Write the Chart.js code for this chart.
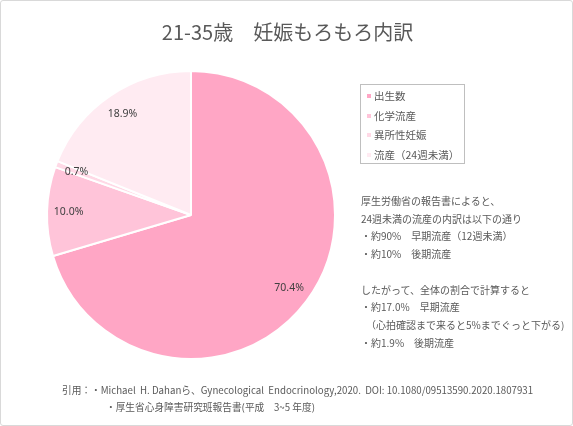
<!DOCTYPE html>
<html lang="ja">
<head>
<meta charset="utf-8">
<script src="https://cdn.jsdelivr.net/npm/chart.js@4"></script>
<style>
  body { margin: 0; background: #fff; }
  #wrap {
    position: relative; width: 571px; height: 424px;
    border: 1px solid #d9d9d9; border-radius: 3px; overflow: hidden;
    font-family: "Noto Sans CJK JP", "Noto Sans", sans-serif; color: #595959;
  }
  #chart { position: absolute; left: -1px; top: -1px; }
  #title {
    position: absolute; left: 0; width: 573px; top: 18px;
    text-align: center; font-size: 20px; line-height: 26px; color: #595959;
  }
  #legend {
    position: absolute; left: 359px; top: 83px; width: 105px; height: 80px;
    border: 1px solid #bfbfbf; font-size: 10.5px; line-height: 19.5px;
    padding-top: 1px; box-sizing: border-box;
  }
  #legend div { padding-left: 13px; position: relative; white-space: nowrap; }
  #legend span {
    position: absolute; left: 6px; top: 8px; width: 4px; height: 4px;
  }
  #note {
    position: absolute; left: 360px; top: 191px; font-size: 10px;
    line-height: 17.7px; white-space: pre; color: #595959;
  }
  #cite {
    position: absolute; left: 61px; top: 381px; font-size: 9.7px;
    line-height: 17px; white-space: pre; color: #595959;
  }
  #cite .second { padding-left: 44px; }
</style>
</head>
<body>
<div id="wrap">
  <canvas id="chart" width="573" height="426"></canvas>
  <div id="title">21-35歳　妊娠もろもろ内訳</div>
  <div id="legend"></div>
  <div id="note"></div>
  <div id="cite"></div>
</div>
<script>
// data
const categories = ["出生数", "化学流産", "異所性妊娠", "流産（24週未満）"];
const shares = [70.4, 10.0, 0.7, 18.9];

const sliceColors = ["#ffa6c5", "#ffc4d9", "#ffd9e6", "#ffebf2"];

const noteLines = [
    "厚生労働省の報告書によると、",
    "24週未満の流産の内訳は以下の通り",
    "・約90%　早期流産（12週未満）",
    "・約10%　後期流産",
    "",
    "したがって、全体の割合で計算すると",
    "・約17.0%　早期流産",
    "　（心拍確認まで来ると5%までぐっと下がる)",
    "・約1.9%　後期流産"
];

const citeLines = [
    "引用：・Michael  H. Dahanら、Gynecological  Endocrinology,2020.  DOI: 10.1080/09513590.2020.1807931",
    "・厚生省心身障害研究班報告書(平成　3~5 年度)"
];

// legend and text blocks
let legend = document.getElementById("legend");
categories.forEach((c, i) => {
    let row = document.createElement("div");
    row.innerHTML = '<span style="background:' + sliceColors[i] + '"></span>' + c;
    legend.appendChild(row);
});
document.getElementById("note").textContent = noteLines.join("\n");
let cite = document.getElementById("cite");
citeLines.forEach((line, i) => {
    let d = document.createElement("div");
    if (i > 0) d.className = "second";
    d.textContent = line;
    cite.appendChild(d);
});

// percentage labels inside each slice
const sliceLabels = {
    id: "sliceLabels",
    afterDatasetsDraw(chart) {
        let ctx = chart.ctx;
        let meta = chart.getDatasetMeta(0);
        ctx.save();
        ctx.font = "10.5px 'Noto Sans', 'Noto Sans CJK JP', sans-serif";
        ctx.fillStyle = "#404040";
        ctx.textAlign = "center";
        ctx.textBaseline = "middle";
        meta.data.forEach((arc, i) => {
            let mid = (arc.startAngle + arc.endAngle) / 2;
            let r = arc.outerRadius * 0.85;
            ctx.fillText(shares[i].toFixed(1) + "%", arc.x + Math.cos(mid) * r, arc.y + Math.sin(mid) * r);
        });
        ctx.restore();
    }
};

new Chart(document.getElementById("chart").getContext("2d"), {
    type: "pie",
    data: {
        labels: categories,
        datasets: [{
            data: shares,
            backgroundColor: sliceColors,
            borderColor: "#ffffff",
            borderWidth: 2
        }]
    },
    options: {
        responsive: false,
        animation: false,
        layout: { padding: { left: 46, right: 237, top: 70, bottom: 66 } },
        plugins: {
            legend: { display: false },
            tooltip: { enabled: false }
        }
    },
    plugins: [sliceLabels]
});
</script>
</body>
</html>
